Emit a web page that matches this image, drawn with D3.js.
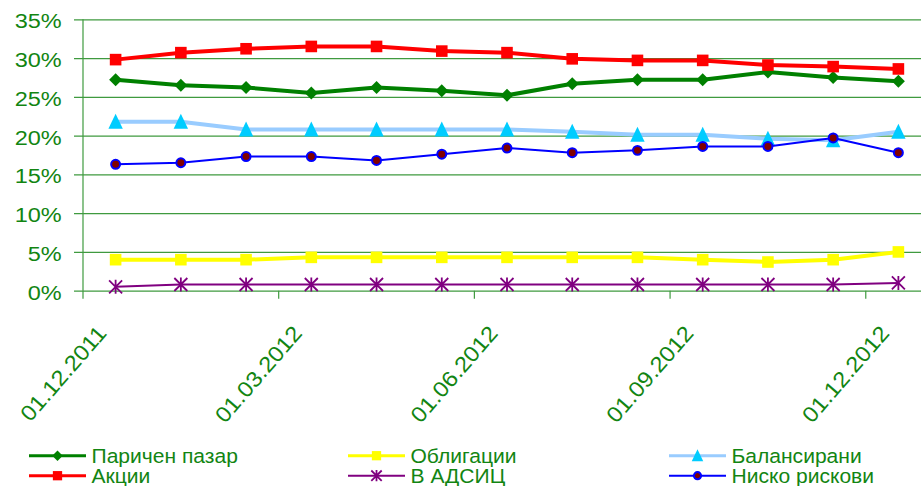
<!DOCTYPE html>
<html lang="bg">
<head>
  <meta charset="UTF-8">
  <title>Доходност по фондове</title>
  <style>
    body { margin: 0; background: #fff; }
    svg { display: block; font-family: "Liberation Sans", Arial, sans-serif; }
  </style>
</head>
<body>
  <script src="https://d3js.org/d3.v7.min.js"></script>
  <script>
    'use strict';

    // monthly dates, one point per month
    const months = ['01.12.2011', '01.01.2012', '01.02.2012', '01.03.2012', '01.04.2012', '01.05.2012',
      '01.06.2012', '01.07.2012', '01.08.2012', '01.09.2012', '01.10.2012', '01.11.2012', '01.12.2012'];
    const tickMonths = ['01.12.2011', '01.03.2012', '01.06.2012', '01.09.2012', '01.12.2012'];
    const percentTicks = [0, 5, 10, 15, 20, 25, 30, 35];

    const parichenPazar = [27.2, 26.5, 26.2, 25.5, 26.2, 25.8, 25.2, 26.7, 27.2, 27.2, 28.2, 27.5, 27.0];
    const akcii = [29.8, 30.7, 31.2, 31.5, 31.5, 30.9, 30.7, 29.9, 29.7, 29.7, 29.1, 28.9, 28.6];
    const obligacii = [4.0, 4.0, 4.0, 4.3, 4.3, 4.3, 4.3, 4.3, 4.3, 4.0, 3.7, 4.0, 5.0];
    const vAdsic = [0.5, 0.8, 0.8, 0.8, 0.8, 0.8, 0.8, 0.8, 0.8, 0.8, 0.8, 0.8, 1.0];
    const balansirani = [21.8, 21.8, 20.8, 20.8, 20.8, 20.8, 20.8, 20.5, 20.1, 20.1, 19.6, 19.4, 20.5];
    const niskoRiskovi = [16.3, 16.5, 17.3, 17.3, 16.8, 17.6, 18.4, 17.8, 18.1, 18.6, 18.6, 19.7, 17.8];

    const seriesNames = ['Паричен пазар', 'Акции', 'Облигации', 'В АДСИЦ', 'Балансирани', 'Ниско рискови'];

    const width = 921;
    const height = 486;
    const plotLeft = 83;
    const plotRight = 931;
    const plotTop = 19.3;
    const plotBottom = 290.7;
    const textGreen = '#128512';
    const gridColor = '#3f9a3f';
    const stretch = 1.12;   // y labels in the picture are a bit wide
    const xStretch = 1.086; // date labels too, along their own baseline

    const series = [
      { name: seriesNames[0], values: parichenPazar, line: '#008000', lineWidth: 4, marker: 'diamond', fill: '#008000' },
      { name: seriesNames[1], values: akcii, line: '#ff0000', lineWidth: 4, marker: 'square', fill: '#ff0000' },
      { name: seriesNames[2], values: obligacii, line: '#ffff00', lineWidth: 4, marker: 'square', fill: '#ffff00' },
      { name: seriesNames[3], values: vAdsic, line: '#800080', lineWidth: 2, marker: 'star', fill: '#800080' },
      { name: seriesNames[4], values: balansirani, line: '#99ccff', lineWidth: 4, marker: 'triangle', fill: '#00ccff' },
      { name: seriesNames[5], values: niskoRiskovi, line: '#0000ff', lineWidth: 2, marker: 'circle', fill: '#800000' }
    ];

    const x = d3.scaleBand().domain(months).range([plotLeft, plotRight]);
    const cx = m => x(m) + x.bandwidth() / 2;
    const y = d3.scaleLinear().domain([0, 35]).range([plotBottom, plotTop]);

    const svg = d3.select('body').append('svg')
      .attr('width', width)
      .attr('height', height);

    // gridlines + y labels
    const yAxis = d3.axisLeft(y)
      .tickValues(percentTicks)
      .tickSize(-(plotRight - 74))
      .tickPadding(11)
      .tickFormat(d => d + '%');

    svg.append('g')
      .attr('transform', 'translate(74,0)')
      .call(yAxis)
      .attr('font-family', null)
      .attr('font-size', 21)
      .call(g => g.select('.domain').remove())
      .call(g => g.selectAll('.tick line').attr('stroke', gridColor).attr('stroke-width', 1.2))
      .call(g => g.selectAll('.tick text')
        .attr('fill', textGreen)
        .attr('dy', '0.4em')
        .attr('transform', `scale(${stretch},1)`));

    // axis lines
    svg.append('line')
      .attr('x1', plotLeft).attr('x2', plotLeft)
      .attr('y1', plotTop).attr('y2', plotBottom)
      .attr('stroke', gridColor).attr('stroke-width', 1.2);

    svg.selectAll('.xtick')
      .data(tickMonths)
      .enter().append('line')
      .attr('class', 'xtick')
      .attr('x1', d => x(d)).attr('x2', d => x(d))
      .attr('y1', plotBottom).attr('y2', plotBottom + 8)
      .attr('stroke', gridColor).attr('stroke-width', 1.2);

    svg.selectAll('.xlabel')
      .data(tickMonths)
      .enter().append('text')
      .attr('class', 'xlabel')
      .attr('transform', d => `translate(${cx(d) - 8},334) rotate(-49) scale(${xStretch},1)`)
      .attr('text-anchor', 'end')
      .attr('font-size', 22)
      .attr('fill', textGreen)
      .text(d => d);

    // markers
    function markerPath(type, s) {
      if (type === 'star') {
        const a = 6.5 * s, b = 7 * s;
        return `M${-a},${-a}L${a},${a}M${-a},${a}L${a},${-a}M0,${-b}L0,${b}`;
      }
      if (type === 'diamond') {
        const r = 6.5 * s;
        return `M0,${-r}L${r},0L0,${r}L${-r},0Z`;
      }
      if (type === 'square') {
        const h = 5.8 * s;
        return `M${-h},${-h}H${h}V${h}H${-h}Z`;
      }
      if (type === 'triangle') {
        const w = 7.2 * s, t = 8 * s, b = 7 * s;
        return `M0,${-t}L${w},${b}L${-w},${b}Z`;
      }
      return d3.symbol(d3.symbolCircle, Math.PI * 20 * s * s)();
    }

    function drawMarker(g, sr, s) {
      const p = g.append('path').attr('d', markerPath(sr.marker, s));
      if (sr.marker === 'star') {
        p.attr('fill', 'none').attr('stroke', sr.fill).attr('stroke-width', 1.8);
      } else if (sr.marker === 'circle') {
        p.attr('fill', sr.fill).attr('stroke', sr.line).attr('stroke-width', 2);
      } else {
        p.attr('fill', sr.fill);
      }
    }

    const line = d3.line()
      .x((d, i) => cx(months[i]))
      .y(d => y(d));

    series.forEach(sr => {
      const g = svg.append('g');
      g.append('path')
        .attr('d', line(sr.values))
        .attr('fill', 'none')
        .attr('stroke', sr.line)
        .attr('stroke-width', sr.lineWidth)
        .attr('stroke-linejoin', 'round');
      sr.values.forEach((v, i) => {
        const mg = g.append('g').attr('transform', `translate(${cx(months[i])},${y(v)})`);
        drawMarker(mg, sr, 1);
      });
    });

    // legend, 3 columns x 2 rows, filled column first
    const legendCols = [29, 348, 669];
    const legendRows = [455.7, 475.7];
    series.forEach((sr, i) => {
      const lx = legendCols[Math.floor(i / 2)];
      const ly = legendRows[i % 2];
      const g = svg.append('g').attr('transform', `translate(${lx},${ly})`);
      g.append('line')
        .attr('x1', 0).attr('x2', 57)
        .attr('stroke', sr.line)
        .attr('stroke-width', sr.lineWidth === 4 ? 3 : 2);
      const mg = g.append('g').attr('transform', 'translate(28.5,0)');
      drawMarker(mg, sr, 0.8);
      g.append('text')
        .attr('transform', `translate(62.5,7.6) scale(1.08,1)`)
        .attr('font-size', 19.5)
        .attr('fill', textGreen)
        .text(sr.name);
    });
  </script>
</body>
</html>
